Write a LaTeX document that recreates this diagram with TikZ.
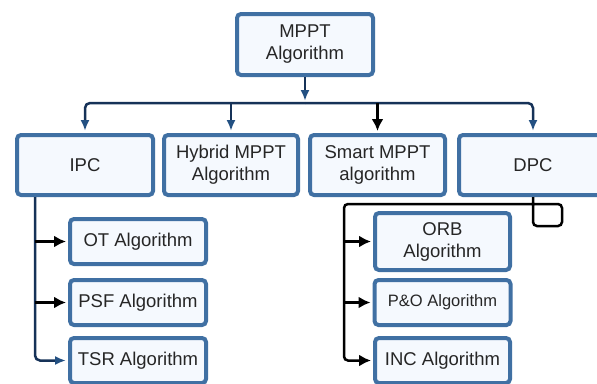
\documentclass[tikz,border=0pt]{standalone}
\usepackage{fontspec}
\setmainfont{Liberation Sans}
\usepackage{xcolor}
\usetikzlibrary{arrows.meta,positioning}
\definecolor{boxblue}{RGB}{64,112,163}
\definecolor{boxfill}{RGB}{245,249,254}
\definecolor{navy}{RGB}{22,50,88}
\definecolor{tipblue}{RGB}{35,80,130}
\begin{document}
\begin{tikzpicture}[x=1pt,y=-1pt,
  every node/.style={font=\fontsize{18.5}{22}\selectfont,text=black!85},
  box/.style={draw=boxblue,line width=4pt,fill=boxfill,rounded corners=4pt,align=center,inner sep=0pt},
  bus/.style={draw=navy,line width=2.5pt},
  blk/.style={draw=black,line width=2.5pt},
  btip/.style={-{Latex[length=11pt,width=9pt,color=tipblue]},shorten >=2pt},
  ktip/.style={-{Latex[length=12pt,width=12pt]},shorten >=2pt}]
\useasboundingbox (0,0) rectangle (597,383);
% top and second row
\node[box,minimum width=136pt,minimum height=61pt] (m) at (305,44.5) {MPPT\\Algorithm};
\node[box,minimum width=136pt,minimum height=60pt] (ipc) at (85,165) {IPC};
\node[box,minimum width=134pt,minimum height=60pt,right=7pt of ipc] (hyb) {Hybrid MPPT\\Algorithm};
\node[box,minimum width=135pt,minimum height=60pt,right=8pt of hyb] (sm) {Smart MPPT\\algorithm};
\node[box,minimum width=148pt,minimum height=60pt,right=10pt of sm] (dpc) {DPC};
% IPC methods
\node[box,minimum width=136pt,minimum height=45pt] (ot) at (138,241.5) {OT Algorithm};
\node[box,minimum width=136pt,minimum height=45pt,below=12pt of ot] (psf) {PSF Algorithm};
\node[box,minimum width=136pt,minimum height=45pt,below=9pt of psf] (tsr) {TSR Algorithm};
% DPC methods
\node[box,minimum width=135pt,minimum height=57pt] (orb) at (442.5,241.5) {ORB\\Algorithm};
\node[box,minimum width=136pt,minimum height=45pt,below=6pt of orb,font=\fontsize{16.5}{20}\selectfont] (po) {P\&O Algorithm};
\node[box,minimum width=135pt,minimum height=45pt,below=9pt of po] (inc) {INC Algorithm};
% bus
\coordinate (j) at (305,103);
\draw[bus,btip] (m) -- (j);
\draw[bus,rounded corners=5pt,btip] (j) -| (ipc);
\draw[bus,rounded corners=5pt,btip] (j) -| (dpc);
\draw[bus,btip] (j -| hyb) -- (hyb);
\draw[blk,ktip] (j -| sm) -- (sm);
% left branch
\coordinate (lt) at ([xshift=20pt]ipc.south west);
\draw[bus,rounded corners=5pt,btip] (lt) |- (tsr);
\draw[blk,ktip] (lt |- ot) -- (ot);
\draw[blk,ktip] (lt |- psf) -- (psf);
% right branch
\coordinate (rt) at (344,204);
\draw[blk,rounded corners=4pt,ktip] (dpc.south) -- ++(0,29) -- ++(29,0) -- ++(0,-22) -- (rt) |- (inc);
\draw[blk,ktip] (rt |- orb) -- (orb);
\draw[blk,ktip] (rt |- po) -- (po);
\end{tikzpicture}
\end{document}
